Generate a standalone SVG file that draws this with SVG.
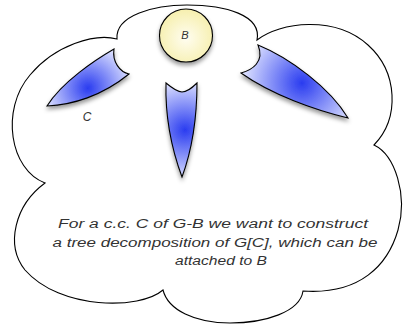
<svg xmlns="http://www.w3.org/2000/svg" width="407" height="324" viewBox="0 0 407 324">
<style>
.outline{fill:#fff;stroke:#000;stroke-width:1.1}
.blade{stroke:#000;stroke-width:1.1;stroke-linejoin:miter;filter:url(#sh)}
.hand{font-family:"Liberation Sans","DejaVu Sans",sans-serif;font-style:italic;fill:#333}
</style>
<defs>
<filter id="sh" x="-30%" y="-30%" width="160%" height="160%">
<feDropShadow dx="0" dy="3" stdDeviation="2" flood-color="#000" flood-opacity="0.4"/>
</filter>
<radialGradient id="gL" gradientUnits="userSpaceOnUse" cx="88" cy="88" r="45">
<stop offset="0" stop-color="#2a3cf0"/><stop offset="1" stop-color="#dfe3ff"/>
</radialGradient>
<radialGradient id="gM" gradientUnits="userSpaceOnUse" cx="185" cy="130" r="50">
<stop offset="0" stop-color="#2a3cf0"/><stop offset="1" stop-color="#dfe3ff"/>
</radialGradient>
<radialGradient id="gR" gradientUnits="userSpaceOnUse" cx="302" cy="83" r="60">
<stop offset="0" stop-color="#2a3cf0"/><stop offset="1" stop-color="#dfe3ff"/>
</radialGradient>
<radialGradient id="gB" cx="0.5" cy="0.55" r="0.55">
<stop offset="0" stop-color="#fffdf0"/><stop offset="1" stop-color="#f6efae"/>
</radialGradient>
</defs>
<g id="cloud">
<path class="outline" d="M117,39 C115,15 155,5 187,5 C225,5 262,15 257,40 C280,22 335,15 368,45 C398,72 400,118 374,145 C395,155 408,195 398,230 C388,265 360,295 303,291 C300,312 265,323 230,323 C195,323 168,310 163,290 C140,310 60,310 25,270 C5,245 15,205 45,183 C10,170 0,110 30,75 C55,45 95,33 117,39 Z"/>
</g>
<g id="node-left">
<path class="blade" fill="url(#gL)" d="M114,49 C95,60 62,82 47,106 C72,105 102,96 129,74 C120,72 112,62 114,49 Z"/>
</g>
<g id="node-center">
<path class="blade" fill="url(#gM)" d="M166,83 C172,88 178,92 182,92 C186,92 192,88 197,83 C197,120 192,150 182,177 C172,150 165,120 166,83 Z"/>
</g>
<g id="node-right">
<path class="blade" fill="url(#gR)" d="M258,45 C290,58 330,88 348,118 C315,110 272,95 241,73 C252,70 265,62 258,45 Z"/>
</g>
<g id="node-B">
<circle cx="186" cy="35.5" r="26.5" fill="url(#gB)" stroke="#000" stroke-width="1.1" filter="url(#sh)"/>
<text class="hand" x="185" y="39" font-size="11" text-anchor="middle">B</text>
</g>
<g id="label-C">
<text class="hand" x="87" y="121" font-size="12" text-anchor="middle" fill="#555">C</text>
</g>
<g id="caption" class="hand" font-size="12.5" text-anchor="middle">
<text x="213" y="228" textLength="310" lengthAdjust="spacingAndGlyphs">For a c.c. C of G-B we want to construct</text>
<text x="215" y="247" textLength="325" lengthAdjust="spacingAndGlyphs">a tree decomposition of G[C], which can be</text>
<text x="221" y="265" textLength="92" lengthAdjust="spacingAndGlyphs">attached to B</text>
</g>
<g id="connectors"/>
</svg>
